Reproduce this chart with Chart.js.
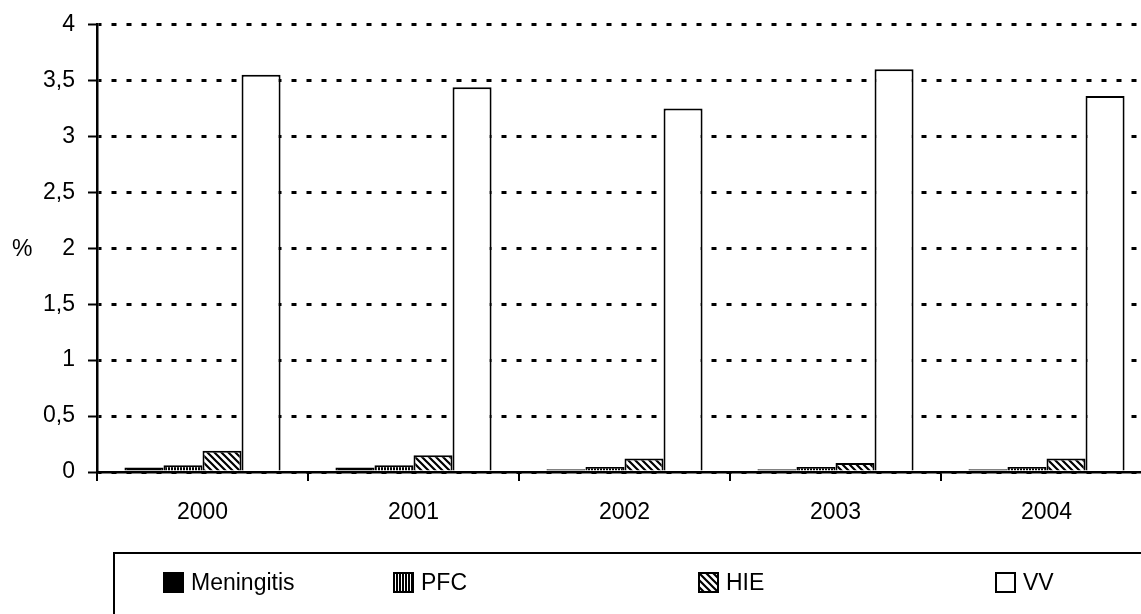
<!DOCTYPE html>
<html lang="en">
<head>
<meta charset="UTF-8">
<title>Chart</title>
<script src="https://cdn.jsdelivr.net/npm/chart.js"></script>
<style>
    html, body { margin: 0; padding: 0; background: #fff; overflow: hidden; }
    .wrap { position: relative; width: 1160px; height: 614px; }
</style>
</head>
<body>
<div class="wrap"><canvas id="chart" width="1160" height="614"></canvas></div>
<script>
const years = ['2000', '2001', '2002', '2003', '2004'];
const meningitis = [0.04, 0.04, 0.025, 0.025, 0.025];
const pfc = [0.06, 0.06, 0.045, 0.045, 0.045];
const hie = [0.19, 0.15, 0.12, 0.08, 0.12];
const vv = [3.55, 3.44, 3.25, 3.60, 3.36];
const seriesNames = ['Meningitis', 'PFC', 'HIE', 'VV'];

const FONT = "'Liberation Sans Narrow', 'Arial Narrow', 'Liberation Sans', Arial, sans-serif";

// fill patterns for the hatched bars
function stripePattern() {
    const c = document.createElement('canvas');
    c.width = 3; c.height = 3;
    const g = c.getContext('2d');
    g.fillStyle = '#000'; g.fillRect(0, 0, 3, 3);
    g.fillStyle = '#fff'; g.fillRect(2, 0, 1, 3);
    return g.createPattern(c, 'repeat');
}
function diagPattern() {
    const c = document.createElement('canvas');
    c.width = 7; c.height = 7;
    const g = c.getContext('2d');
    g.fillStyle = '#fff'; g.fillRect(0, 0, 7, 7);
    g.strokeStyle = '#000'; g.lineWidth = 2.2;
    g.beginPath();
    g.moveTo(-7, -7); g.lineTo(14, 14);
    g.moveTo(-7, 0); g.lineTo(7, 14);
    g.moveTo(0, -7); g.lineTo(14, 7);
    g.stroke();
    return g.createPattern(c, 'repeat');
}

const ctx = document.getElementById('chart').getContext('2d');
const fills = ['#000', stripePattern(), diagPattern(), '#fff'];

function makeSet(i, data) {
    return {
        label: seriesNames[i],
        data: data,
        backgroundColor: fills[i],
        borderColor: '#000',
        borderWidth: 2,
        categoryPercentage: 0.74,
        barPercentage: 1.0
    };
}

const legendBox = {
    id: 'legendBox',
    afterDraw(chart) {
        const c = chart.ctx;
        c.save();
        c.lineWidth = 2;
        c.strokeStyle = '#000';
        c.strokeRect(114, 553, 1100, 100);
        const xs = [163, 393, 698, 995];
        c.font = '23px ' + FONT;
        c.textBaseline = 'middle';
        chart.data.datasets.forEach((ds, i) => {
            c.fillStyle = ds.backgroundColor;
            c.fillRect(xs[i], 572, 21, 21);
            c.strokeRect(xs[i] + 1, 573, 19, 19);
            c.fillStyle = '#000';
            c.fillText(ds.label, xs[i] + 28, 584);
        });
        c.fillText('%', 12, 250);
        c.restore();
    }
};

new Chart(ctx, {
    type: 'bar',
    data: {
        labels: years,
        datasets: [makeSet(0, meningitis), makeSet(1, pfc), makeSet(2, hie), makeSet(3, vv)]
    },
    options: {
        responsive: false,
        animation: false,
        layout: { padding: { top: 24, right: 8, left: 0, bottom: 0 } },
        plugins: { legend: { display: false }, tooltip: { enabled: false } },
        scales: {
            x: {
                afterFit: s => { s.height = 142; },
                grid: {
                    offset: true,
                    drawOnChartArea: false,
                    color: '#000',
                    lineWidth: 2,
                    tickLength: 9
                },
                border: { color: '#000', width: 2.5 },
                ticks: { color: '#000', font: { family: FONT, size: 23 }, padding: 18 }
            },
            y: {
                min: 0,
                max: 4,
                afterFit: s => { s.width = 97; },
                grid: {
                    color: '#000',
                    lineWidth: 3,
                    tickLength: 9,
                    tickWidth: 2,
                    tickBorderDash: []
                },
                border: { color: '#000', width: 2.5, dash: [5, 10], dashOffset: 2 },
                ticks: {
                    stepSize: 0.5,
                    color: '#000',
                    padding: 13,
                    font: { family: FONT, size: 23, lineHeight: 1 },
                    callback: v => String(v).replace('.', ',')
                }
            }
        }
    },
    plugins: [legendBox]
});
</script>
</body>
</html>
